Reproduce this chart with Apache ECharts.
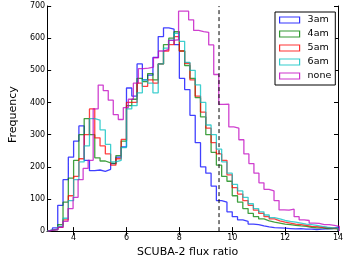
<!DOCTYPE html>
<html>
<head>
<meta charset="utf-8">
<script src="https://cdn.jsdelivr.net/npm/echarts@6/dist/echarts.min.js"></script>
<style>html,body{margin:0;padding:0;background:#fff;}#c{width:350px;height:263px;}</style>
</head>
<body>
<div id="c"></div>
<script>
// Series names and colours
const seriesNames = ['3am', '4am', '5am', '6am', 'none'];
const seriesColors = ['#0000ff', '#008000', '#ff0000', '#00bfbf', '#bf00bf'];

// Histogram bin layout (left edge of first bin, bin width)
const binStart = [3.0, 3.0, 3.0, 3.0, 3.03];
const binWidth = [0.2, 0.2, 0.2, 0.2, 0.19];

// Counts per bin
const counts3am = [3, 10, 80, 160, 230, 280, 327, 220, 188, 190,
  186, 192, 210, 230, 262, 445, 420, 520, 470, 485,
  540, 605, 632, 628, 580, 475, 440, 360, 275, 200,
  180, 140, 95, 90, 60, 45, 35, 30, 22, 20,
  16, 13, 11, 10, 9, 8, 7, 8, 6, 6,
  5, 6, 7, 8, 12];
const counts4am = [3, 6, 20, 90, 165, 220, 300, 350, 300, 228, 218, 212,
  210, 235, 280, 390, 410, 475, 465, 490, 470, 520, 580, 600, 620,
  560, 515, 475, 415, 355, 300, 245,
  205, 170, 155, 110, 90, 70, 55, 45, 38, 32, 28, 25, 22, 20, 18, 16, 15, 12, 10, 10, 8, 8, 7];
const counts5am = [2, 5, 12, 35, 110, 170, 225, 300, 380, 290, 265, 240,
  205, 225, 285, 400, 400, 460, 450, 470, 460, 520, 560, 580, 605,
  560, 522, 470, 420, 370, 320, 275,
  240, 220, 175, 135, 115, 95, 80, 65, 55, 45, 38, 32, 28, 25, 22, 20, 18, 15, 14, 12, 11, 10, 8];
const counts6am = [3, 5, 15, 40, 95, 160, 215, 265, 350, 345, 315, 270,
  215, 220, 260, 380, 390, 430, 470, 460, 430, 520, 569, 594, 615,
  590, 525, 500, 455, 400, 330, 300,
  255, 215, 180, 145, 125, 105, 85, 70, 60, 50, 42, 38, 33, 30, 28, 25, 22, 20, 18, 15, 12, 10, 10];
const countsNone = [3, 5, 12, 30, 70, 105, 160, 195, 220, 380,
  454, 437, 407, 362, 347, 384, 410, 460, 505, 507,
  510, 539, 560, 565, 593, 595, 684, 684, 657, 624,
  620, 618, 579, 487, 394, 395, 324, 320, 284, 240,
  210, 180, 150, 130, 125, 95, 66, 65, 68, 45,
  35, 33, 25, 24, 20, 20, 18, 15];
const allCounts = [counts3am, counts4am, counts5am, counts6am, countsNone];

// Axis ticks
const xTicks = [4, 6, 8, 10, 12, 14];
const xMin = 3, xMax = 14;
const yMin = 0, yMax = 700, yStep = 100;
const cutValue = 9.5;

function stepPoints(start, width, counts) {
  const pts = [[start, 0]];
  counts.forEach((c, i) => pts.push([+(start + i * width).toFixed(4), c]));
  const end = +(start + counts.length * width).toFixed(4);
  pts.push([end, counts[counts.length - 1]]);
  pts.push([end, 0]);
  return pts;
}

const series = seriesNames.map((name, i) => ({
  name: name,
  type: 'line',
  step: 'end',
  showSymbol: false,
  symbol: 'none',
  clip: true,
  silent: true,
  data: stepPoints(binStart[i], binWidth[i], allCounts[i]),
  lineStyle: { color: seriesColors[i], width: 1.3, opacity: 0.75 },
  itemStyle: { color: seriesColors[i] },
  z: 2 + i
}));
series.push({
  name: 'cut',
  type: 'line',
  showSymbol: false,
  symbol: 'none',
  silent: true,
  data: [[cutValue, yMin], [cutValue, yMax]],
  lineStyle: { color: '#000', width: 1, type: [4, 3] },
  z: 10
});

const font = 'DejaVu Sans';
const chart = echarts.init(document.getElementById('c'), null, { renderer: 'canvas' });
chart.setOption({
  animation: false,
  backgroundColor: '#fff',
  textStyle: { fontFamily: font },
  grid: { left: 33, right: 12, top: 6, bottom: 23 },
  legend: {
    orient: 'vertical',
    left: 275, top: 12,
    padding: [3, 4, 4, 4],
    itemWidth: 20, itemHeight: 6, itemGap: 4,
    backgroundColor: '#fff',
    borderColor: '#000', borderWidth: 1,
    selectedMode: false,
    textStyle: { fontFamily: font, fontSize: 9.5, color: '#000', lineHeight: 10, padding: [0, 0, 0, 3] },
    data: seriesNames.map((n, i) => ({
      name: n, icon: 'rect',
      itemStyle: { color: 'rgba(0,0,0,0)', borderColor: seriesColors[i], borderWidth: 1.2, opacity: 0.8 },
      lineStyle: { width: 0, opacity: 0 }
    }))
  },
  xAxis: [{
    type: 'value', min: xMin, max: xMax, position: 'bottom',
    name: 'SCUBA-2 flux ratio', nameLocation: 'middle', nameGap: 11,
    nameTextStyle: { fontSize: 11, color: '#000', fontFamily: font, padding: [0, 10, 0, 0] },
    axisLine: { lineStyle: { color: '#000', width: 1 } },
    axisTick: { inside: true, length: 4, customValues: xTicks, lineStyle: { color: '#000' } },
    axisLabel: { customValues: xTicks, fontSize: 8, color: '#000', margin: 3 },
    splitLine: { show: false }
  }, {
    type: 'value', min: xMin, max: xMax, position: 'top',
    axisLine: { show: true, lineStyle: { color: '#000', width: 1 } },
    axisTick: { show: true, inside: true, length: 4, customValues: xTicks, lineStyle: { color: '#000' } },
    axisLabel: { show: false },
    splitLine: { show: false }
  }],
  yAxis: [{
    type: 'value', min: yMin, max: yMax, interval: yStep, position: 'left',
    name: 'Frequency', nameLocation: 'middle', nameGap: 21,
    nameTextStyle: { fontSize: 11, color: '#000', fontFamily: font, padding: [0, 0, 0, 8] },
    axisLine: { show: true, lineStyle: { color: '#000', width: 1 } },
    axisTick: { show: true, inside: true, length: 4, lineStyle: { color: '#000' } },
    axisLabel: { fontSize: 8, color: '#000', margin: 2 },
    splitLine: { show: false }
  }, {
    type: 'value', min: yMin, max: yMax, interval: yStep, position: 'right',
    axisLine: { show: true, lineStyle: { color: '#000', width: 1 } },
    axisTick: { show: true, inside: true, length: 4, lineStyle: { color: '#000' } },
    axisLabel: { show: false },
    splitLine: { show: false }
  }],
  series: series
});
</script>
</body>
</html>
